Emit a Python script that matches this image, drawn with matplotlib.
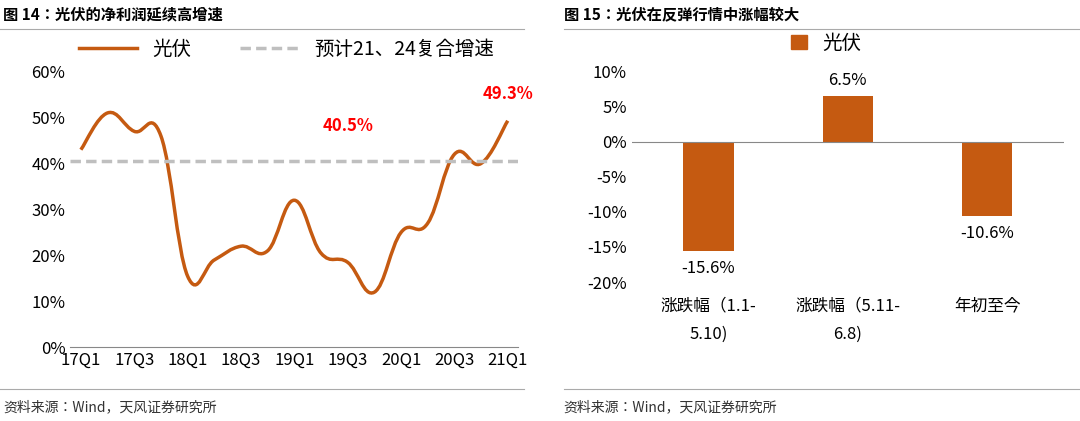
import numpy as np
import matplotlib.pyplot as plt
from matplotlib.path import Path
from matplotlib.patches import PathPatch, Patch
from matplotlib.lines import Line2D

plt.rcParams['font.family'] = ['Noto Sans CJK JP', 'Noto Sans CJK SC', 'Noto Sans CJK TC', 'DejaVu Sans']

# DATA #
quarters = ['17Q1', '17Q2', '17Q3', '17Q4', '18Q1', '18Q2', '18Q3', '18Q4', '19Q1',
            '19Q2', '19Q3', '19Q4', '20Q1', '20Q2', '20Q3', '20Q4', '21Q1']
pv_growth = [43, 51, 47, 46, 15.5, 19, 22, 21, 32, 20.5, 18.5, 12, 25, 27, 42, 40, 49.3]
cagr = 40.5
bar_cats = ['涨跌幅（1.1-\n5.10)', '涨跌幅（5.11-\n6.8)', '年初至今']
bar_vals = [-15.6, 6.5, -10.6]

ORANGE = '#C55A11'
RED = '#FF0000'


def smooth_path(x, y, t=0.2):
    # Catmull-Rom style bezier through the data points (render only)
    x = np.asarray(x, float); y = np.asarray(y, float)
    verts = [(x[0], y[0])]
    codes = [Path.MOVETO]
    n = len(x)
    for i in range(n - 1):
        p0 = i - 1 if i > 0 else i
        p3 = i + 2 if i + 2 < n else i + 1
        c1 = (x[i] + t * (x[i + 1] - x[p0]), y[i] + t * (y[i + 1] - y[p0]))
        c2 = (x[i + 1] - t * (x[p3] - x[i]), y[i + 1] - t * (y[p3] - y[i]))
        verts += [c1, c2, (x[i + 1], y[i + 1])]
        codes += [Path.CURVE4] * 3
    return Path(verts, codes)


fig = plt.figure(figsize=(10.8, 4.21), dpi=100)

# titles and source
fig.text(0.003, 0.965, '图 14：光伏的净利润延续高增速', fontsize=11, fontweight='bold', va='center')
fig.text(0.522, 0.965, '图 15：光伏在反弹行情中涨幅较大', fontsize=11, fontweight='bold', va='center')
fig.text(0.003, 0.032, '资料来源：Wind，天风证券研究所', fontsize=10, color='#333333', va='center')
fig.text(0.522, 0.032, '资料来源：Wind，天风证券研究所', fontsize=10, color='#333333', va='center')
for x0, x1 in [(0.0, 0.485), (0.522, 1.0)]:
    fig.add_artist(Line2D([x0, x1], [0.93, 0.93], color='#AAAAAA', lw=0.8))
    fig.add_artist(Line2D([x0, x1], [0.075, 0.075], color='#AAAAAA', lw=0.8))

# LEFT #
ax = fig.add_axes([0.065, 0.175, 0.415, 0.655])
xs = np.arange(len(quarters))
ax.add_patch(PathPatch(smooth_path(xs, pv_growth), fill=False, edgecolor=ORANGE, lw=2.5))
ax.axhline(cagr, color='#BFBFBF', lw=2.5, ls=(0, (3, 1.5)))
ax.set_xlim(-0.4, len(quarters) - 0.6)
ax.set_ylim(0, 60)
ax.set_yticks(range(0, 61, 10))
ax.set_yticklabels([f'{v}%' for v in range(0, 61, 10)], fontsize=12)
ax.set_xticks(xs[::2])
ax.set_xticklabels(quarters[::2], fontsize=12)
ax.tick_params(length=0)
for s in ['top', 'right', 'left']:
    ax.spines[s].set_visible(False)
ax.spines['bottom'].set_color('#888888')
ax.text(10, 47, f'{cagr}%', color=RED, fontsize=12, fontweight='bold', ha='center')
ax.text(16, 54, f'{pv_growth[-1]}%', color=RED, fontsize=12, fontweight='bold', ha='center')
ax.legend([Line2D([], [], color=ORANGE, lw=2.5),
           Line2D([], [], color='#BFBFBF', lw=2.5, ls=(0, (3, 1.5)))],
          ['光伏', '预计21、24复合增速'], loc='lower left', bbox_to_anchor=(-0.02, 0.98),
          ncol=2, frameon=False, fontsize=14, handlelength=3, columnspacing=2.5)

# RIGHT #
ax2 = fig.add_axes([0.585, 0.33, 0.4, 0.5])
bx = np.arange(len(bar_cats))
ax2.bar(bx, bar_vals, width=0.36, color=ORANGE)
ax2.set_ylim(-20, 10)
ax2.set_xlim(-0.55, 2.55)
ax2.set_yticks(range(-20, 11, 5))
ax2.set_yticklabels([f'{v}%' for v in range(-20, 11, 5)], fontsize=12)
ax2.set_xticks([])
ax2.axhline(0, color='#888888', lw=0.8)
for s in ['top', 'right', 'left', 'bottom']:
    ax2.spines[s].set_visible(False)
ax2.tick_params(length=0)
for x, v in zip(bx, bar_vals):
    ax2.text(x, v + (1 if v > 0 else -1.3), f'{v}%', ha='center',
             va='bottom' if v > 0 else 'top', fontsize=12)
    ax2.text(x, -22.2, bar_cats[x], ha='center', va='top', fontsize=12, linespacing=1.9)
ax2.legend(handles=[Patch(color=ORANGE)], labels=['光伏'], loc='lower center',
           bbox_to_anchor=(0.45, 1.0), frameon=False, fontsize=14, handlelength=0.8)

fig.savefig('out.png', dpi=100)
